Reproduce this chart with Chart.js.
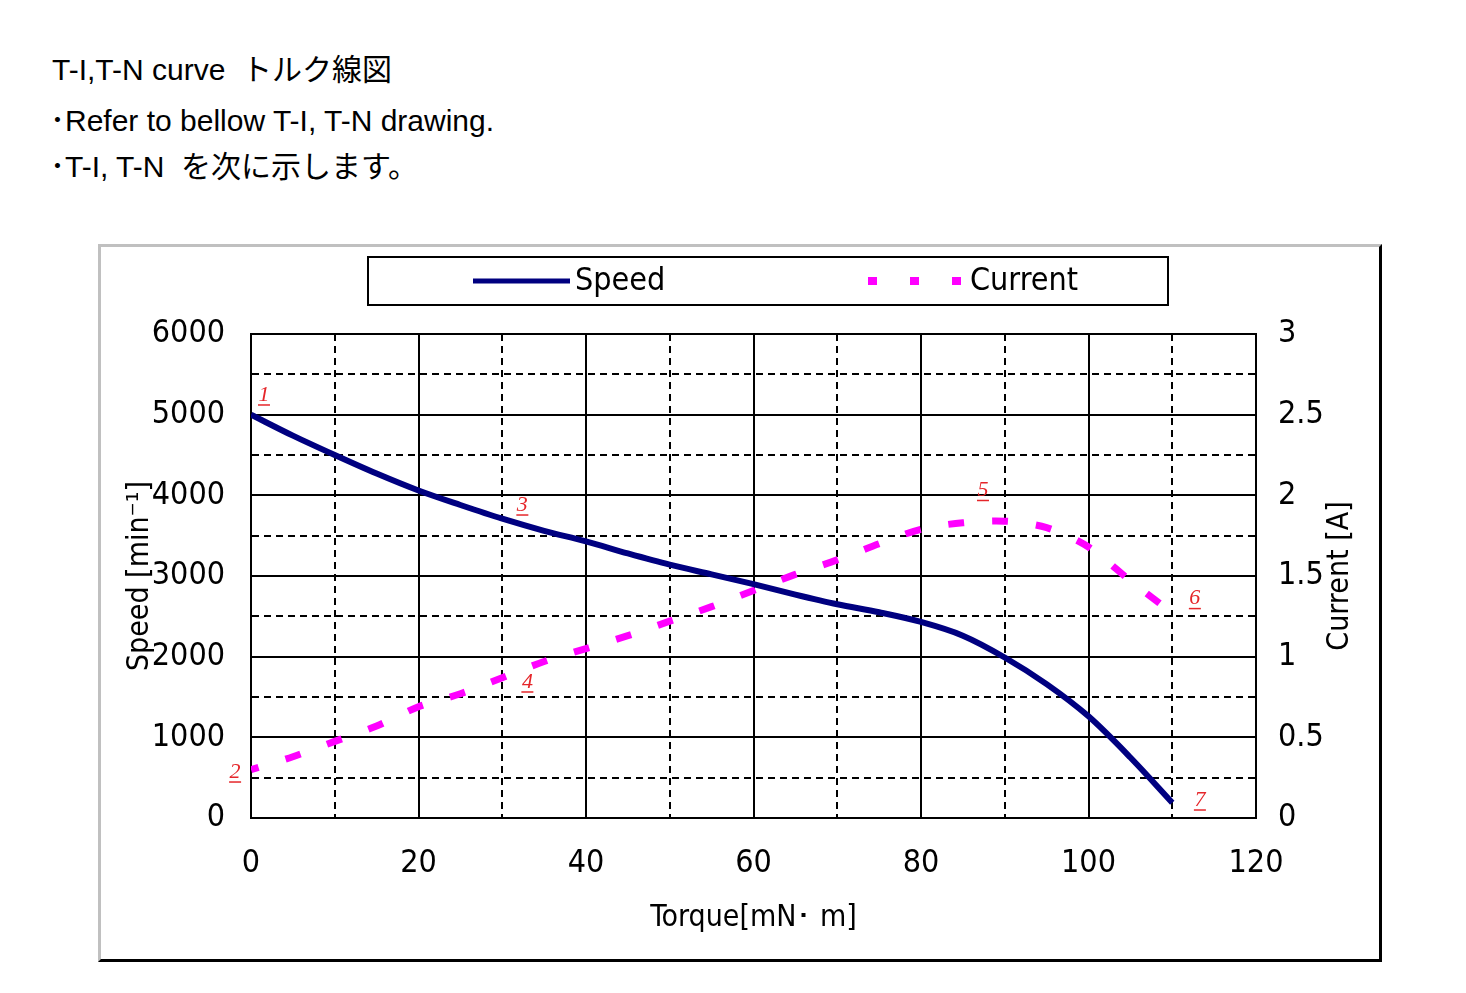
<!DOCTYPE html>
<html>
<head>
<meta charset="utf-8">
<script src="https://cdn.jsdelivr.net/npm/chart.js@4.4.1/dist/chart.umd.min.js"></script>
<style>
  body { margin: 0; background: #fff; }
  .txt { position: absolute; left: 50px; font: 30px 'Liberation Sans', Arial, 'Noto Sans CJK JP', sans-serif; color: #000; line-height: 32px; white-space: pre; }
  #box { position: absolute; left: 98px; top: 244px; width: 1284px; height: 718px; box-sizing: border-box;
         border-left: 3px solid #c0c0c0; border-top: 3px solid #c0c0c0; border-right: 3px solid #000; border-bottom: 3px solid #000; }
</style>
</head>
<body>
<div class="txt" style="top:54px; left:52px;">T-I,T-N curve  トルク線図</div>
<div class="txt" style="top:105px;">･Refer to bellow T-I, T-N drawing.</div>
<div class="txt" style="top:151px;">･T-I, T-N  を次に示します。</div>
<div id="box"><canvas id="graph"></canvas></div>
<script>
// torque [mN·m]
const torque = [0, 5, 10, 15, 20, 25, 30, 35, 40, 45, 50, 55, 60, 65, 70, 75, 80, 85, 90, 95, 100, 105, 110];
// speed [min-1]
const speed = [5000, 4740, 4500, 4270, 4060, 3880, 3710, 3560, 3430, 3280, 3140, 3020, 2900, 2770, 2650, 2550, 2430, 2260, 1990, 1660, 1260, 750, 190];
// current [A]
const current = [0.30, 0.38, 0.475, 0.57, 0.69, 0.77, 0.87, 0.97, 1.05, 1.13, 1.22, 1.31, 1.41, 1.51, 1.60, 1.70, 1.79, 1.83, 1.84, 1.80, 1.68, 1.47, 1.27];

// red point numbers: label, torque, value, axis
const noteLabels = ['1', '2', '3', '4', '5', '6', '7'];
const noteX = [1.55, -1.9, 32.4, 33, 87.4, 112.7, 113.3];
const noteY = [5244, 0.285, 3880, 0.843, 2.03, 1.36, 223];
const noteAxis = ['y', 'y1', 'y', 'y1', 'y1', 'y1', 'y'];

const tickFont = { family: "'Liberation Sans Narrow', 'DejaVu Sans Condensed', 'Liberation Sans', sans-serif", size: 32 };
const titleFont = { family: "'Liberation Sans Narrow', 'DejaVu Sans Condensed', 'Liberation Sans', sans-serif", size: 30 };

const gridDash = (step) => (ctx) => (ctx.tick && Math.abs(ctx.tick.value / step - Math.round(ctx.tick.value / step)) > 1e-9 ? [7, 5] : []);

const extras = {
    id: 'extras',
    afterDraw(chart) {
        const ctx = chart.ctx;
        const sets = chart.data.datasets;
        ctx.save();
        // legend box
        ctx.lineWidth = 2;
        ctx.strokeStyle = '#000';
        ctx.strokeRect(267, 10, 800, 48);
        ctx.font = "32px 'Liberation Sans Narrow', 'DejaVu Sans Condensed', sans-serif";
        ctx.fillStyle = '#000';
        ctx.textBaseline = 'middle';
        ctx.textAlign = 'left';
        ctx.strokeStyle = sets[0].borderColor;
        ctx.lineWidth = 5;
        ctx.beginPath(); ctx.moveTo(372, 34); ctx.lineTo(469, 34); ctx.stroke();
        ctx.fillText(sets[0].label, 474, 35);
        ctx.strokeStyle = sets[1].borderColor;
        ctx.lineWidth = 8;
        ctx.setLineDash([9, 33]);
        ctx.beginPath(); ctx.moveTo(767, 34); ctx.lineTo(864, 34); ctx.stroke();
        ctx.setLineDash([]);
        ctx.fillText(sets[1].label, 869, 35);

        // right axis title, bottom to top
        ctx.save();
        ctx.translate(1239, 329);
        ctx.rotate(-Math.PI / 2);
        ctx.textAlign = 'center';
        ctx.font = "30px 'Liberation Sans Narrow', 'DejaVu Sans Condensed', sans-serif";
        ctx.fillText('Current [A]', 0, 0);
        ctx.restore();

        // red numbers
        ctx.font = "italic 22px 'Liberation Serif', serif";
        ctx.fillStyle = '#e5262a';
        ctx.strokeStyle = '#e5262a';
        ctx.lineWidth = 1.5;
        ctx.textAlign = 'center';
        for (let i = 0; i < noteLabels.length; i++) {
            const px = chart.scales.x.getPixelForValue(noteX[i]);
            const py = chart.scales[noteAxis[i]].getPixelForValue(noteY[i]);
            ctx.fillText(noteLabels[i], px, py);
            ctx.beginPath(); ctx.moveTo(px - 6, py + 10); ctx.lineTo(px + 6, py + 10); ctx.stroke();
        }
        ctx.restore();
    }
};

const graph_cont = document.getElementById('graph');
let myChart = new Chart(graph_cont, {
    type: 'line',
    data: {
        datasets: [{
            label: 'Speed',
            data: torque.map((t, i) => ({ x: t, y: speed[i] })),
            yAxisID: 'y',
            borderColor: '#000080',
            backgroundColor: '#000080',
            borderWidth: 6,
            pointRadius: 0,
            cubicInterpolationMode: 'monotone'
        }, {
            label: 'Current',
            data: torque.map((t, i) => ({ x: t, y: current[i] })),
            yAxisID: 'y1',
            borderColor: '#ff00ff',
            backgroundColor: '#ff00ff',
            borderWidth: 7,
            borderDash: [16, 28],
            borderDashOffset: 8,
            borderCapStyle: 'butt',
            pointRadius: 0,
            tension: 0.3
        }]
    },
    options: {
        responsive: true,
        maintainAspectRatio: false,
        animation: false,
        layout: { padding: { top: 87, left: 0, right: 0, bottom: 0 } },
        plugins: {
            legend: { display: false },
            tooltip: { enabled: false }
        },
        scales: {
            x: {
                type: 'linear',
                min: 0, max: 120,
                afterFit: (s) => { s.height = 141; },
                ticks: {
                    stepSize: 10, autoSkip: false, maxRotation: 0, padding: 26,
                    color: '#000', font: tickFont,
                    callback: (v) => (v % 20 === 0 ? v : '')
                },
                grid: { color: '#000', lineWidth: 2, drawTicks: false },
                border: { color: '#000', width: 2, dash: gridDash(20) },
                title: { display: true, text: 'Torque[mN･ m]', color: '#000', font: titleFont, padding: { top: 0, bottom: 23 } }
            },
            y: {
                position: 'left',
                min: 0, max: 6000,
                afterFit: (s) => { s.width = 150; },
                ticks: {
                    stepSize: 500, autoSkip: false, padding: 26,
                    color: '#000', font: tickFont,
                    callback: (v) => (v % 1000 === 0 ? v : '')
                },
                grid: { color: '#000', lineWidth: 2, drawTicks: false },
                border: { color: '#000', width: 2, dash: gridDash(1000) },
                title: { display: true, text: 'Speed [min⁻¹]', color: '#000', font: titleFont, padding: { top: 21, bottom: 0 } }
            },
            y1: {
                position: 'right',
                min: 0, max: 3,
                afterFit: (s) => { s.width = 123; },
                ticks: {
                    stepSize: 0.25, autoSkip: false, padding: 22,
                    color: '#000', font: tickFont,
                    callback: (v) => (Math.abs(v * 2 - Math.round(v * 2)) < 1e-9 ? v : '')
                },
                grid: { drawOnChartArea: false, drawTicks: false },
                border: { color: '#000', width: 2 }
            }
        }
    },
    plugins: [extras]
});
</script>
</body>
</html>
